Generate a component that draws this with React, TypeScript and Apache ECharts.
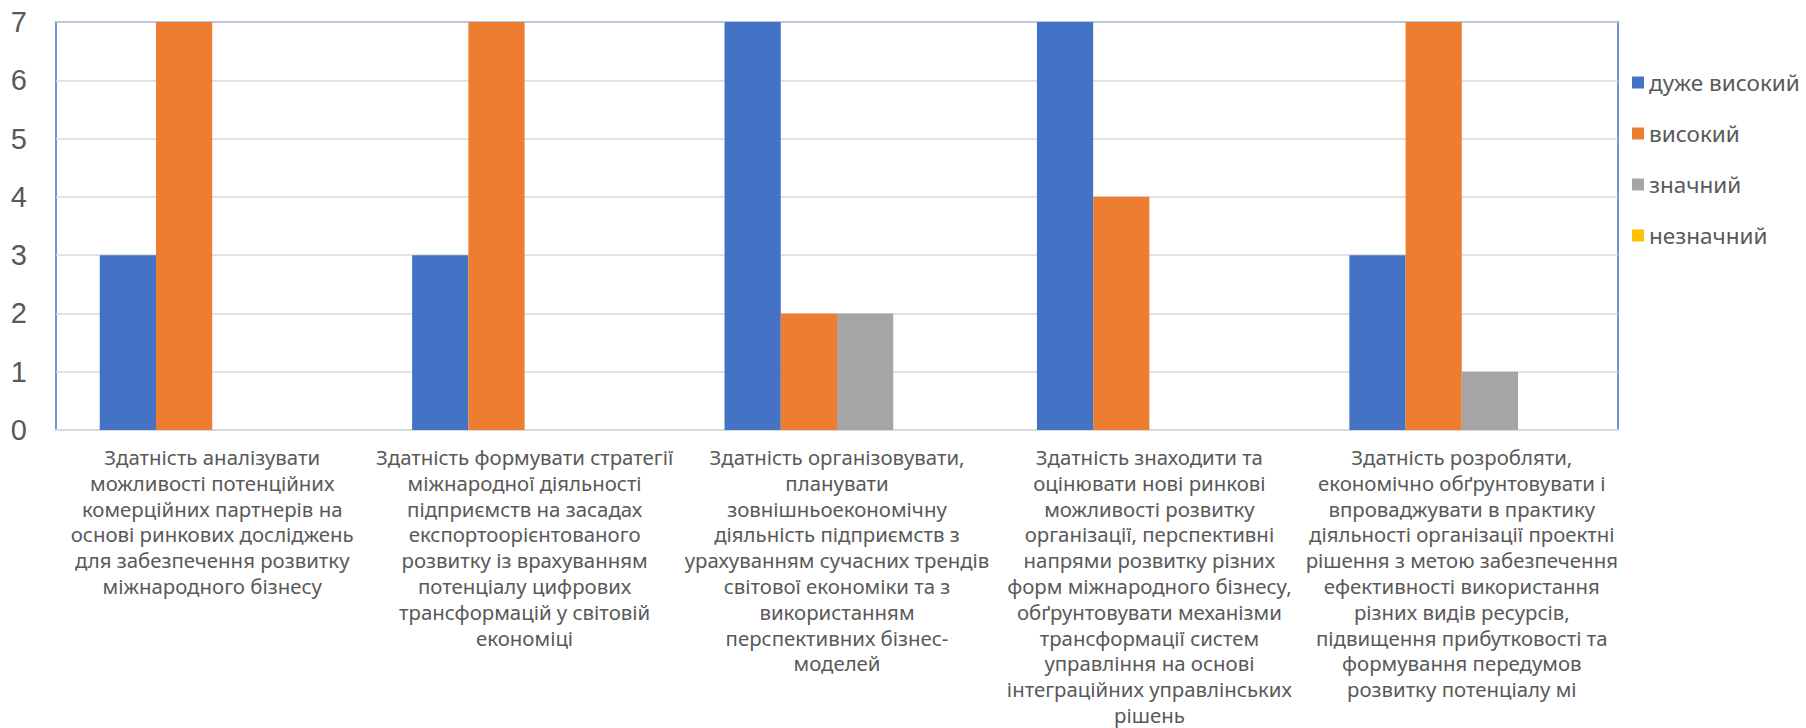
import React, { useEffect, useRef } from "react";
import * as echarts from "echarts";

const categories: string[] = [
  "Здатність аналізувати\nможливості потенційних\nкомерційних партнерів на\nоснові ринкових досліджень\nдля забезпечення розвитку\nміжнародного бізнесу",
  "Здатність формувати стратегії\nміжнародної діяльності\nпідприємств на засадах\nекспортоорієнтованого\nрозвитку із врахуванням\nпотенціалу цифрових\nтрансформацій у світовій\nекономіці",
  "Здатність організовувати,\nпланувати\nзовнішньоекономічну\nдіяльність підприємств з\nурахуванням сучасних трендів\nсвітової економіки та з\nвикористанням\nперспективних бізнес-\nмоделей",
  "Здатність знаходити та\nоцінювати нові ринкові\nможливості розвитку\nорганізації, перспективні\nнапрями розвитку різних\nформ міжнародного бізнесу,\nобґрунтовувати механізми\nтрансформації систем\nуправління на основі\nінтеграційних управлінських\nрішень",
  "Здатність розробляти,\nекономічно обґрунтовувати і\nвпроваджувати в практику\nдіяльності організації проектні\nрішення з метою забезпечення\nефективності використання\nрізних видів ресурсів,\nпідвищення прибутковості та\nформування передумов\nрозвитку потенціалу мі",
];

const seriesNames: string[] = ["дуже високий", "високий", "значний", "незначний"];
const veryHigh: number[] = [3, 3, 7, 7, 3];
const high: number[] = [7, 7, 2, 4, 7];
const significant: number[] = [0, 0, 2, 0, 1];
const insignificant: number[] = [0, 0, 0, 0, 0];
const colors: string[] = ["#4472C4", "#ED7D31", "#A5A5A5", "#FFC000"];

export default function App() {
  const ref = useRef<HTMLDivElement>(null);
  useEffect(() => {
    if (!ref.current) return;
    const chart = echarts.init(ref.current, undefined, { renderer: "svg" });
    const values = [veryHigh, high, significant, insignificant];
    chart.setOption({
      animation: false,
      color: colors,
      grid: {
        left: 56,
        right: 188,
        top: 22,
        bottom: 298,
        show: true,
        borderColor: "#4472C4",
        borderWidth: 1.5,
        backgroundColor: "transparent",
      },
      legend: {
        orient: "vertical",
        left: 1627,
        top: 66,
        itemWidth: 12,
        itemHeight: 12,
        itemGap: 28,
        icon: "rect",
        textStyle: {
          color: "#595959",
          fontSize: 22.5,
          fontFamily: "'Noto Sans', sans-serif",
          lineHeight: 22,
        },
        data: seriesNames,
      },
      xAxis: {
        type: "category",
        data: categories,
        axisLine: { lineStyle: { color: "#D9D9D9", width: 2 } },
        axisTick: { show: false },
        axisLabel: {
          interval: 0,
          margin: 14,
          fontSize: 20.4,
          lineHeight: 25.8,
          color: "#595959",
          fontFamily: "'Noto Sans', sans-serif",
          align: "center",
        },
      },
      yAxis: {
        type: "value",
        min: 0,
        max: 7,
        interval: 1,
        axisLine: { show: false },
        axisTick: { show: false },
        splitLine: { lineStyle: { color: "#D9D9D9", width: 1.5 } },
        axisLabel: {
          margin: 29,
          fontSize: 29,
          color: "#595959",
          fontFamily: "'Liberation Sans', Arial, sans-serif",
        },
      },
      series: seriesNames.map((name, i) => ({
        name,
        type: "bar",
        data: values[i],
        barGap: "0%",
        barCategoryGap: "28%",
        itemStyle: { color: colors[i] },
      })),
    });
    return () => chart.dispose();
  }, []);
  return (
    <div
      ref={ref}
      style={{ position: "absolute", left: 0, top: 0, width: 1806, height: 728 }}
    />
  );
}
